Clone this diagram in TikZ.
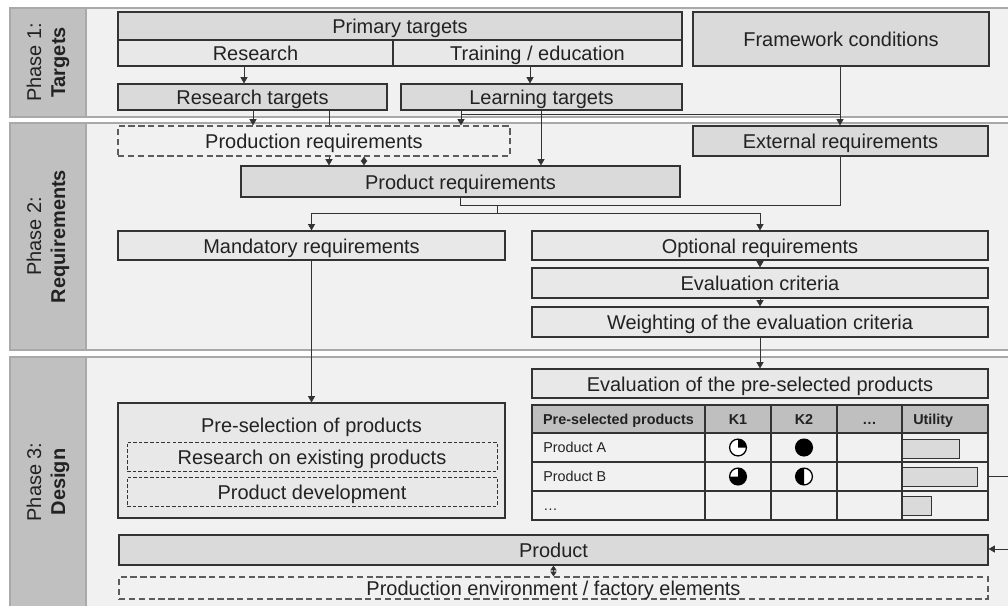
\documentclass[tikz,border=0pt]{standalone}
\usepackage{fontspec}
\setmainfont{Liberation Sans}
\usetikzlibrary{arrows.meta}
\definecolor{bandbg}{HTML}{F1F1F1}
\definecolor{bandln}{HTML}{A9A9A9}
\definecolor{labfill}{HTML}{C0C0C0}
\definecolor{boxdark}{HTML}{DADADA}
\definecolor{boxlight}{HTML}{E8E8E8}
\definecolor{headfill}{HTML}{BFBFBF}
\definecolor{ink}{HTML}{222222}
\definecolor{edge}{HTML}{333333}

\begin{document}
\begin{tikzpicture}[x=0.025cm, y=-0.025cm,
  box/.style 2 args={draw=edge, line width=0.8pt, inner sep=0pt,
    minimum width=#1*0.025cm, minimum height=#2*0.025cm,
    text=ink, font=\fontsize{14.2}{17}\selectfont, text height=11pt, text depth=0pt},
  dk/.style={fill=boxdark},
  lt/.style={fill=boxlight},
  dsh/.style={fill=bandbg, draw=edge!80, dash pattern=on 4.5pt off 2.5pt},
  fdsh/.style={line width=0.6pt, dash pattern=on 2.5pt off 1.5pt},
  ln/.style={draw=edge, line width=0.6pt},
  arr/.style={ln, -{Triangle[length=4.5pt,width=5pt]}},
  dbl/.style={ln, {Triangle[length=3.5pt,width=4.5pt]}-{Triangle[length=3.5pt,width=4.5pt]}},
  band/.style={fill=bandbg, draw=bandln, line width=0.9pt},
  phase/.style={rotate=90, align=center, text=ink, font=\fontsize{14.2}{17}\selectfont},
  tabtxt/.style={text=ink, font=\fontsize{10.2}{12}\selectfont, inner sep=0pt, text height=7.4pt, text depth=0pt},
  hball/.style={circle, draw=black, line width=0.9pt, fill=white, minimum size=0.42cm, inner sep=0pt, outer sep=0pt},
  bar/.style={draw=edge, fill=boxdark, line width=0.6pt, minimum height=19*0.025cm, anchor=west, inner sep=0pt}
]
\useasboundingbox (0,0) rectangle (1008,606);
\clip (0,0) rectangle (1008,606);

% phases
\draw[band] (10,8) rectangle (1020,117);
\draw[band] (10,123) rectangle (1020,350);
\draw[band] (10,357) rectangle (1020,609);
\filldraw[fill=labfill, draw=bandln, line width=0.9pt] (10,8) rectangle (86,117);
\filldraw[fill=labfill, draw=bandln, line width=0.9pt] (10,123) rectangle (86,350);
\filldraw[fill=labfill, draw=bandln, line width=0.9pt] (10,357) rectangle (86,609);
\node[phase] (ph1) at (48,62.5) {Phase 1:\\\textbf{Targets}};
\node[phase] (ph2) at (48,236.5) {Phase 2:\\\textbf{Requirements}};
\node[phase] (ph3) at (48,482) {Phase 3:\\\textbf{Design}};

% phase 1
\node[box={564}{28}, dk] (prim) at (400,26) {Primary targets};
\node[box={275}{26}, lt] (res) at (255.5,53) {Research};
\node[box={289}{26}, lt] (trn) at (537.5,53) {Training / education};
\node[box={296}{54}, dk] (frame) at (841,39) {Framework conditions};
\node[box={269}{26}, dk] (rtar) at (252.5,97) {Research targets};
\node[box={281}{26}, dk] (ltar) at (541.5,97) {Learning targets};

% phase 2
\node[box={392}{30}, dsh] (prodreq) at (314,141) {Production requirements};
\node[box={295}{30}, dk] (ext) at (840.5,141) {External requirements};
\node[box={439}{31}, dk] (prq) at (460.5,181.5) {Product requirements};
\node[box={387}{29}, lt] (mand) at (311.5,245.5) {Mandatory requirements};
\node[box={456}{29}, lt] (opt) at (760,245.5) {Optional requirements};
\node[box={456}{30}, lt] (evc) at (760,283) {Evaluation criteria};
\node[box={456}{30}, lt] (wgt) at (760,322) {Weighting of the evaluation criteria};

% phase 3
\node[box={387}{115}, lt] (presel) at (311.5,460.5) {};
\node[box={0}{0}, draw=none] (pst) at (311.5,425) {Pre-selection of products};
\node[box={370}{29}, lt, fdsh] (rex) at (312,456.5) {Research on existing products};
\node[box={370}{29}, lt, fdsh] (pdev) at (312,491.5) {Product development};
\node[box={456}{29}, lt] (evp) at (760,383.5) {Evaluation of the pre-selected products};
\node[box={869}{30}, dk] (prod) at (553.5,550) {Product};
\node[box={869}{22}, dsh] (penv) at (553.5,588) {Production environment / factory elements};

% evaluation table
\fill[headfill] (532,405) rectangle (988,433);
\foreach \y in {433,462,491} \draw[edge, line width=0.8pt] (532,\y) -- (988,\y);
\foreach \x in {705,771,837,902} \draw[edge, line width=0.8pt] (\x,405) -- (\x,520);
\node[draw=edge, line width=0.8pt, inner sep=0pt, minimum width=456*0.025cm, minimum height=115*0.025cm] (tbl) at (760,462.5) {};
\node[tabtxt, font=\fontsize{10.2}{12}\selectfont\bfseries] (th1) at (618.5,419) {Pre-selected products};
\node[tabtxt, font=\fontsize{10.2}{12}\selectfont\bfseries] (th2) at (738,419) {K1};
\node[tabtxt, font=\fontsize{10.2}{12}\selectfont\bfseries] (th3) at (804,419) {K2};
\node[tabtxt, font=\fontsize{10.2}{12}\selectfont\bfseries] (th4) at (869.5,419) {\ldots};
\node[tabtxt, font=\fontsize{10.2}{12}\selectfont\bfseries, anchor=west] (th5) at (913,419) {Utility};
\node[tabtxt, anchor=west] (ra) at (543,447.5) {Product A};
\node[tabtxt, anchor=west] (rb) at (543,476.5) {Product B};
\node[tabtxt, anchor=west] (rc) at (543,505.5) {\ldots};
\node[hball] (ka1) at (738,447.5) {};
\node[hball, fill=black] (ka2) at (804,447.5) {};
\node[hball] (kb1) at (738,476.5) {};
\node[hball] (kb2) at (804,476.5) {};
\fill (ka1.center) -- (ka1.north) arc[start angle=90, end angle=0, radius=0.21cm] -- cycle;
\fill (kb1.center) -- (kb1.north) arc[start angle=90, end angle=-180, radius=0.21cm] -- cycle;
\fill (kb2.center) -- (kb2.north) arc[start angle=90, end angle=270, radius=0.21cm] -- cycle;
\node[bar, minimum width=57*0.025cm] (ua) at (902,448.5) {};
\node[bar, minimum width=75*0.025cm] (ub) at (902,476.5) {};
\node[bar, minimum width=29*0.025cm] (uc) at (902,505.5) {};

% connectors
\coordinate (c1) at (244,0);
\coordinate (c2) at (530,0);
\coordinate (c3) at (253,0);
\coordinate (c4) at (329,0);
\coordinate (c5) at (461,0);
\coordinate (c6) at (541,0);
\coordinate (c7) at (840,0);
\coordinate (c8) at (364,0);
\draw[arr] (res.south -| c1) -- (rtar.north -| c1);
\draw[arr] (trn.south -| c2) -- (ltar.north -| c2);
\draw[arr] (rtar.south -| c3) -- (prodreq.north -| c3);
\draw[ln] (rtar.south -| c4) -- (prodreq.north -| c4);
\draw[arr] (prodreq.south -| c4) -- (prq.north -| c4);
\draw[arr] (ltar.south -| c5) -- (prodreq.north -| c5);
\draw[arr] (ltar.south -| c6) -- (prq.north -| c6);
\draw[arr] (frame.south -| c7) -- (ext.north -| c7);
\coordinate (j1) at (840,114);
\coordinate (j2) at (461,114);
\draw[ln] (j1) -- (j2);
\draw[dbl] (prodreq.south -| c8) -- (prq.north -| c8);
\coordinate (m1) at (460,205);
\coordinate (m2) at (840,205);
\draw[ln] (prq.south -| m1) -- (m1) -- (m2) -- (ext.south -| m2);
\coordinate (j3) at (497,205);
\coordinate (j4) at (497,213);
\draw[ln] (j3) -- (j4);
\draw[arr] (j4) -| (mand.north);
\draw[arr] (j4) -| (opt.north);
\draw[arr] (opt.south) -- (evc.north);
\draw[arr] (evc.south) -- (wgt.north);
\draw[arr] (wgt.south) -- (evp.north);
\draw[arr] (mand.south) -- (presel.north);
\draw[dbl] (prod.south) -- (penv.north);
\coordinate (r1) at (1014,476.5);
\coordinate (r2) at (1014,549);
\draw[ln] (tbl.east |- ub) -- (r1) -- (r2);
\draw[arr] (r2) -- (prod.east |- r2);
\end{tikzpicture}
\end{document}
